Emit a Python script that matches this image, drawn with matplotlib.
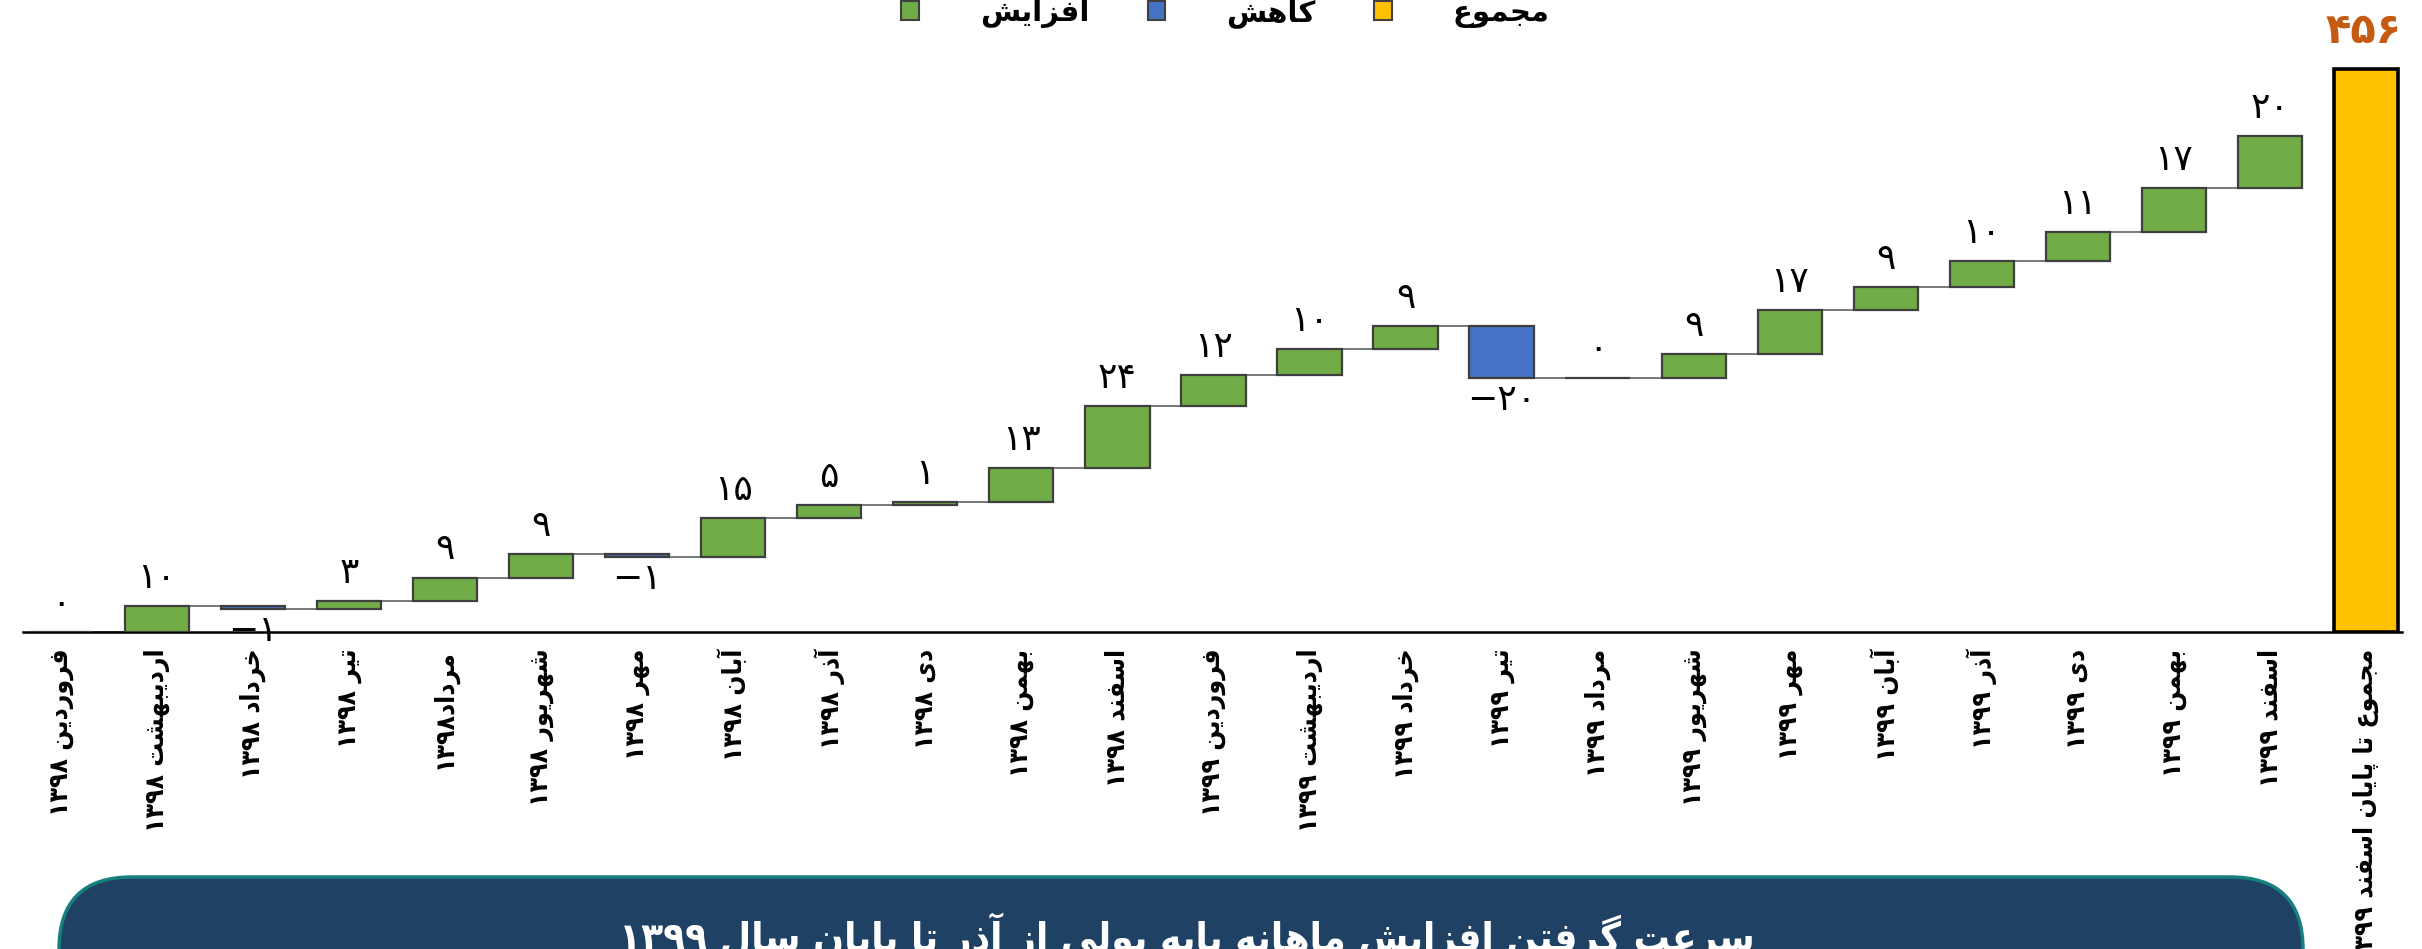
import re
import matplotlib
matplotlib.use("Agg")
import matplotlib.pyplot as plt
from matplotlib.patches import FancyBboxPatch, Patch

# --- data -------------------------------------------------------------
months = ["فروردین ۱۳۹۸", "اردیبهشت ۱۳۹۸", "خرداد ۱۳۹۸", "تیر ۱۳۹۸", "مرداد۱۳۹۸",
          "شهریور ۱۳۹۸", "مهر ۱۳۹۸", "آبان ۱۳۹۸", "آذر ۱۳۹۸", "دی ۱۳۹۸",
          "بهمن ۱۳۹۸", "اسفند ۱۳۹۸", "فروردین ۱۳۹۹", "اردیبهشت ۱۳۹۹", "خرداد ۱۳۹۹",
          "تیر ۱۳۹۹", "مرداد ۱۳۹۹", "شهریور ۱۳۹۹", "مهر ۱۳۹۹", "آبان ۱۳۹۹",
          "آذر ۱۳۹۹", "دی ۱۳۹۹", "بهمن ۱۳۹۹", "اسفند ۱۳۹۹"]
changes = [0, 10, -1, 3, 9, 9, -1, 15, 5, 1, 13, 24, 12, 10, 9, -20, 0, 9, 17, 9, 10, 11, 17, 20]
total_label = "مجموع تا پایان اسفند ۱۳۹۹"
total_value = 456
total_height = 217   # drawn height of the total bar
legend_labels = ["افزایش", "کاهش", "مجموع"]
title = "سرعت گرفتن افزایش ماهانه پایه پولی از آذر تا پایان سال ۱۳۹۹"

GREEN = "#70AD47"
BLUE = "#4472C4"
YELLOW = "#FFC000"
EDGE = "#3F3F3F"

# --- minimal persian shaping (matplotlib has no bidi / joining) --------
FORMS = {
    "ا": ("\uFE8D", "\uFE8E"), "آ": ("\uFE81", "\uFE82"),
    "د": ("\uFEA9", "\uFEAA"), "ذ": ("\uFEAB", "\uFEAC"),
    "ر": ("\uFEAD", "\uFEAE"), "ز": ("\uFEAF", "\uFEB0"),
    "و": ("\uFEED", "\uFEEE"),
    "ب": ("\uFE8F", "\uFE90", "\uFE91", "\uFE92"),
    "پ": ("\uFB56", "\uFB57", "\uFB58", "\uFB59"),
    "ت": ("\uFE95", "\uFE96", "\uFE97", "\uFE98"),
    "ج": ("\uFE9D", "\uFE9E", "\uFE9F", "\uFEA0"),
    "خ": ("\uFEA5", "\uFEA6", "\uFEA7", "\uFEA8"),
    "س": ("\uFEB1", "\uFEB2", "\uFEB3", "\uFEB4"),
    "ش": ("\uFEB5", "\uFEB6", "\uFEB7", "\uFEB8"),
    "ع": ("\uFEC9", "\uFECA", "\uFECB", "\uFECC"),
    "ف": ("\uFED1", "\uFED2", "\uFED3", "\uFED4"),
    "ک": ("\uFB8E", "\uFB8F", "\uFB90", "\uFB91"),
    "گ": ("\uFB92", "\uFB93", "\uFB94", "\uFB95"),
    "ل": ("\uFEDD", "\uFEDE", "\uFEDF", "\uFEE0"),
    "م": ("\uFEE1", "\uFEE2", "\uFEE3", "\uFEE4"),
    "ن": ("\uFEE5", "\uFEE6", "\uFEE7", "\uFEE8"),
    "ه": ("\uFEE9", "\uFEEA", "\uFEEB", "\uFEEC"),
    "ی": ("\uFBFC", "\uFBFD", "\uFBFE", "\uFBFF"),
}


def shape(word):
    out = []
    for i, c in enumerate(word):
        if c not in FORMS:
            out.append(c)
            continue
        f = FORMS[c]
        prev = word[i - 1] if i > 0 else ""
        nxt = word[i + 1] if i + 1 < len(word) else ""
        jp = prev in FORMS and len(FORMS[prev]) == 4
        jn = len(f) == 4 and nxt in FORMS
        if jp and jn:
            out.append(f[3])
        elif jp:
            out.append(f[1])
        elif jn:
            out.append(f[2])
        else:
            out.append(f[0])
    return "".join(out)


def fa(text):
    # shape, then put into visual order (digit runs stay left-to-right)
    runs = re.findall(r"[۰-۹]+|[^۰-۹]+", text)
    vis = [r if r[0] in "۰۱۲۳۴۵۶۷۸۹" else shape(r)[::-1] for r in runs]
    return "".join(vis[::-1])


def fa_num(v):
    s = str(abs(v)).translate(str.maketrans("0123456789", "۰۱۲۳۴۵۶۷۸۹"))
    return ("\u2212" + s) if v < 0 else s


plt.rcParams["font.family"] = ["DejaVu Sans"]

fig = plt.figure(figsize=(24.22, 9.49), dpi=100)
ax = fig.add_axes([0.0096, 0.334, 0.982, 0.6567])

# --- waterfall ----------------------------------------------------------
n = len(changes)
level = 0
bottoms = []
for v in changes:
    bottoms.append(level if v >= 0 else level + v)
    level += v
colors = [GREEN if v >= 0 else BLUE for v in changes]
x = list(range(n))
w = 0.67
ax.bar(x, [abs(v) for v in changes], bottom=bottoms, width=w, color=colors,
       edgecolor=EDGE, linewidth=1.6, zorder=3)
ax.bar([n], [total_height], width=w, color=YELLOW, edgecolor="black",
       linewidth=2.6, zorder=3)

# connectors
level = 0
for i, v in enumerate(changes[:-1]):
    level += v
    ax.plot([i + w / 2, i + 1 - w / 2], [level, level], color="#6E6E6E",
            linewidth=1.3, zorder=2)

# value labels
level = 0
for i, v in enumerate(changes):
    top = level + max(v, 0)
    low = level + min(v, 0)
    level += v
    if v >= 0:
        ax.annotate(fa_num(v), (i, top), xytext=(0, 8), textcoords="offset points",
                    ha="center", va="bottom", fontsize=26)
    else:
        ax.annotate(fa_num(v), (i, low), xytext=(0, -4), textcoords="offset points",
                    ha="center", va="top", fontsize=26)
ax.annotate(fa_num(total_value), (n, total_height), xytext=(-2, 12),
            textcoords="offset points", ha="center", va="bottom",
            fontsize=30, fontweight="bold", color="#C55A11")

ax.set_xlim(-0.39, n + 0.37)
ax.set_ylim(0, 240)
ax.set_xticks(range(n + 1))
ax.set_xticklabels([fa(m) for m in months] + [fa(total_label)], rotation=90,
                   fontsize=19, fontweight="bold", fontstretch="condensed")
ax.tick_params(axis="x", length=0, pad=12)
ax.set_yticks([])
for s in ["left", "right", "top"]:
    ax.spines[s].set_visible(False)
ax.spines["bottom"].set_linewidth(1.8)
ax.spines["bottom"].set_color("black")

# legend
handles = [Patch(facecolor=c, edgecolor=EDGE, linewidth=1.5) for c in (GREEN, BLUE, YELLOW)]
fig.legend(handles, [fa(t) for t in legend_labels], loc="center",
           bbox_to_anchor=(0.506, 0.986), ncol=3, frameon=False,
           prop={"size": 21, "weight": "bold"}, handlelength=0.6, handleheight=0.6,
           handletextpad=2.1, columnspacing=2.0)

# title box
box = FancyBboxPatch((59 / 2422, -0.08), (2303 - 59) / 2422, 0.08 + 1 - 877 / 949,
                     boxstyle="round,pad=0,rounding_size=0.03",
                     transform=fig.transFigure, facecolor="#1E4164",
                     edgecolor="#17807E", linewidth=2.5, mutation_aspect=2422 / 949)
fig.patches.append(box)
fig.text(0.49, 0.039, fa(title), ha="center", va="top", color="white",
         fontsize=29, fontweight="bold", fontstretch="condensed")

fig.savefig("out.png", dpi=100)
